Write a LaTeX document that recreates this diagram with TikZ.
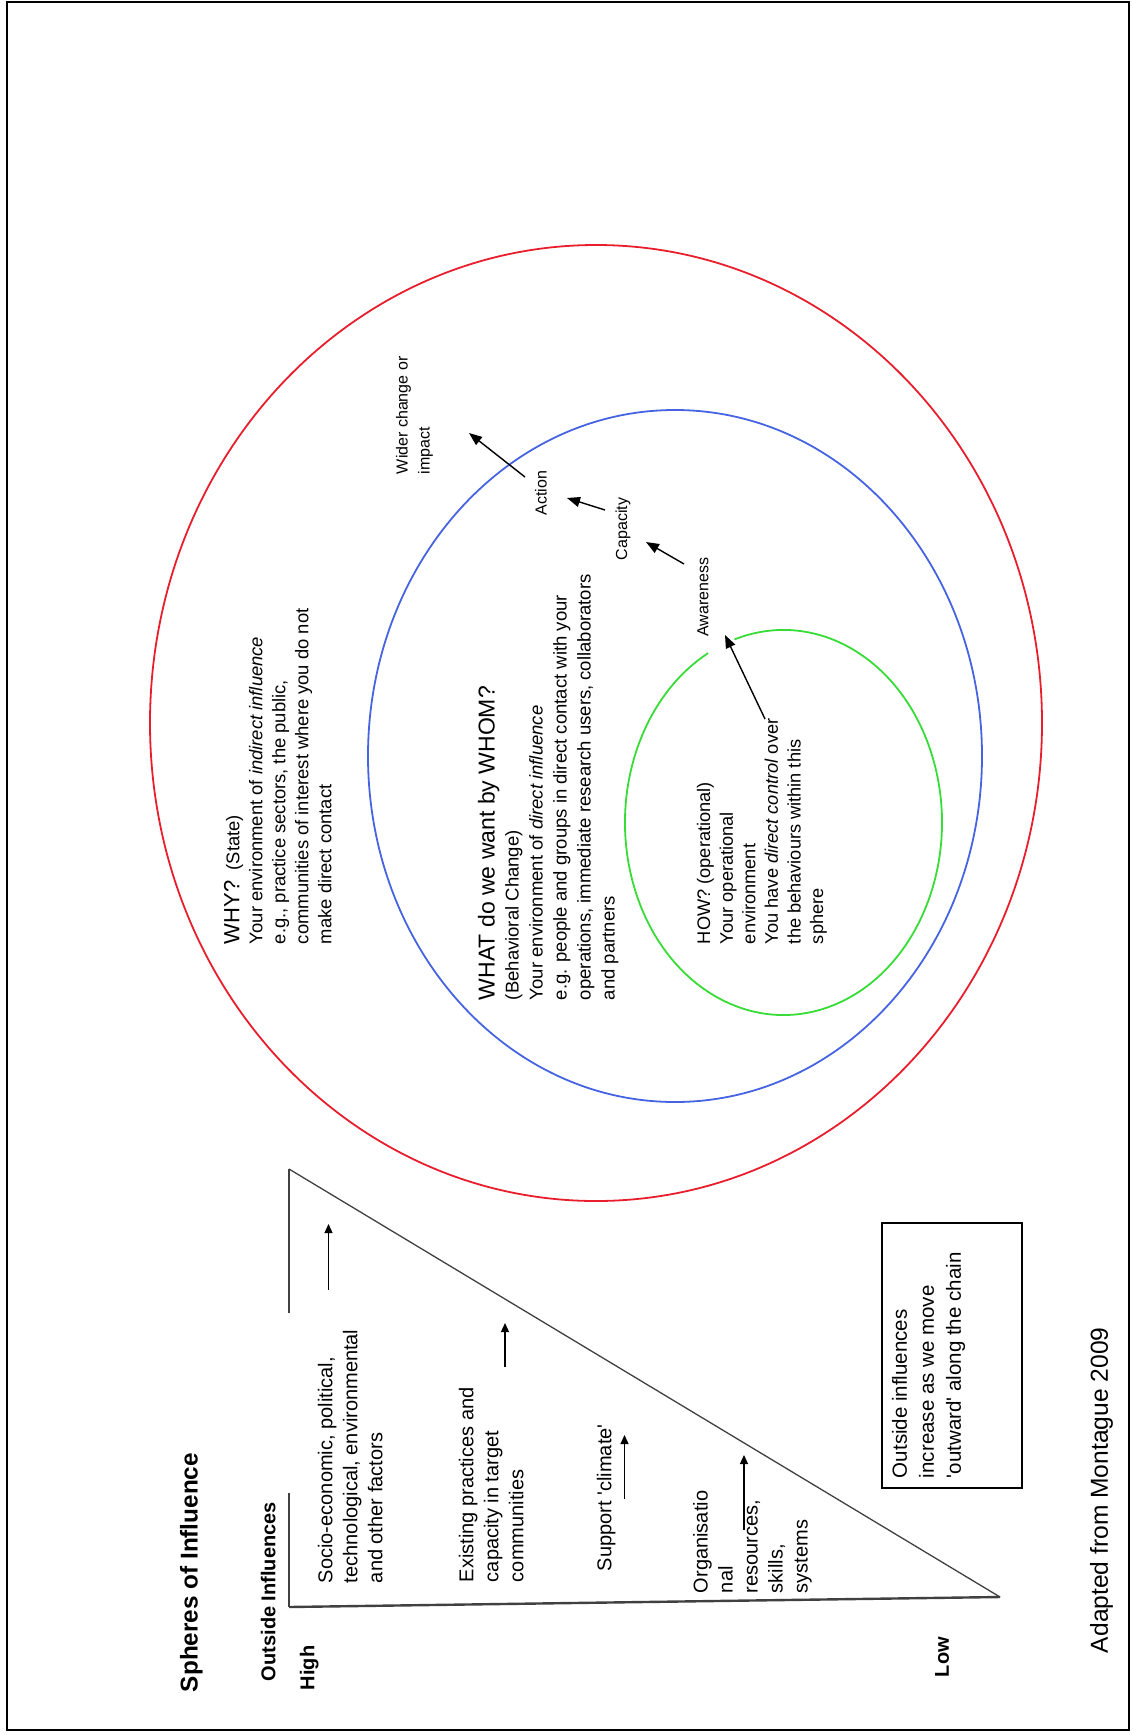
\documentclass[tikz,border=0pt]{standalone}
\usepackage{fontspec}
\setmainfont{Liberation Sans}
\usetikzlibrary{arrows.meta}

\definecolor{outerred}{RGB}{232,30,45}
\definecolor{midblue}{RGB}{70,100,225}
\definecolor{innergreen}{RGB}{55,220,55}

\begin{document}
\begin{tikzpicture}[x=1pt,y=-1pt,
  every node/.style={inner sep=0pt,outer sep=0pt},
  vtext/.style={rotate=90,anchor=north west,align=left},
  bodytext/.style={font=\fontsize{18.4}{23}\selectfont},
  tritext/.style={font=\fontsize{20}{25}\selectfont},
  smalllbl/.style={font=\fontsize{16}{22}\selectfont},
  headlbl/.style={font=\bfseries\fontsize{20}{25}\selectfont},
  sphereline/.style={line width=1.8pt},
  triline/.style={draw=black!75,line width=1.3pt},
  uparrow/.style={line width=1.3pt,-{Triangle[length=9pt,width=8pt]}},
  chainarrow/.style={line width=1.4pt,-{Triangle[length=13pt,width=10pt]}}
]
\useasboundingbox (0,0) rectangle (1132,1735);

% page frame
\draw[line width=1.5pt] (7,2) rectangle (1129,1730);

% spheres of influence
\draw[sphereline,draw=outerred] (596,723) ellipse [x radius=446,y radius=478];
\draw[sphereline,draw=midblue] (675,756) ellipse [x radius=307,y radius=346];
\draw[sphereline,draw=innergreen] (734.5,639.4)
  arc[start angle=252,end angle=601.6,x radius=158.5,y radius=192.5];

% sphere descriptions
\node[vtext,bodytext] (why) at (224,944)
  {{\fontsize{22}{27}\selectfont WHY?}\ \ (State)\\
   Your environment of \textit{indirect influence}\\
   e.g., practice sectors, the public,\\
   communities of interest where you do not\\
   make direct contact};

\node[vtext,font=\fontsize{18.5}{24}\selectfont] (what) at (478,1000)
  {{\fontsize{23}{28}\selectfont WHAT do we want by WHOM?}\\
   (Behavioral Change)\\
   Your environment of \textit{direct influence}\\
   e.g. people and groups in direct contact with your\\
   operations, immediate research users, collaborators\\
   and partners};

\node[vtext,font=\fontsize{18.2}{22.6}\selectfont] (how) at (697,944)
  {HOW? (operational)\\
   Your operational\\
   environment\\
   You have \textit{direct control} over\\
   the behaviours within this\\
   sphere};

% results chain
\node[rotate=90,smalllbl] (awareness) at (703,597) {Awareness};
\node[rotate=90,smalllbl] (capacity) at (623,529) {Capacity};
\node[rotate=90,smalllbl] (action) at (541,493) {Action};
\node[vtext,smalllbl] (wider) at (396,474) {Wider change or\\impact};

\coordinate (howTail) at (765,719);   \coordinate (awTip) at (725,635);
\coordinate (awTail) at (684,564);    \coordinate (capTip) at (646,542);
\coordinate (capTail) at (605,510);   \coordinate (actTip) at (567,498);
\coordinate (actTail) at (525,477);   \coordinate (widerTip) at (469,433);
\draw[chainarrow] (howTail) -- (awTip);
\draw[chainarrow] (awTail) -- (capTip);
\draw[chainarrow] (capTail) -- (actTip);
\draw[chainarrow] (actTail) -- (widerTip);

% outside influences triangle
\coordinate (tTop) at (289,1169);
\coordinate (tCorner) at (289,1607);
\coordinate (tTip) at (1000,1597);
\coordinate (gapA) at (289,1313);
\coordinate (gapB) at (289,1493);
\draw[triline] (tTop) -- (gapA);
\draw[triline] (gapB) -- (tCorner);
\draw[triline,line width=2.4pt] (tCorner) -- (tTip);
\draw[triline] (tTip) -- (tTop);

\node[vtext,font=\bfseries\fontsize{24.3}{30}\selectfont] (title) at (180,1692) {Spheres of Influence};
\node[vtext,headlbl] (outside) at (261,1681) {Outside Influences};
\node[vtext,headlbl] (high) at (300,1690) {High};
\node[vtext,headlbl] (low) at (935,1677) {Low};

\node[vtext,tritext] (socio) at (318,1583)
  {Socio-economic, political,\\technological, environmental\\and other factors};
\node[vtext,tritext] (existing) at (459,1582)
  {Existing practices and\\capacity in target\\communities};
\node[vtext,tritext] (support) at (597,1571)
  {Support \textquotesingle climate\textquotesingle};
\node[vtext,tritext] (organisational) at (693,1593)
  {Organisatio\\nal\\resources,\\skills,\\systems};

\coordinate (s1a) at (328.5,1290); \coordinate (s1b) at (328.5,1224);
\coordinate (s2a) at (505,1367);   \coordinate (s2b) at (505,1323);
\coordinate (s3a) at (624.5,1499); \coordinate (s3b) at (624.5,1435);
\coordinate (s4a) at (744,1530);   \coordinate (s4b) at (744,1455);
\draw[uparrow] (s1a) -- (s1b);
\draw[uparrow] (s2a) -- (s2b);
\draw[uparrow] (s3a) -- (s3b);
\draw[uparrow] (s4a) -- (s4b);

% note box and credit
\node[draw,line width=1.3pt,minimum width=140pt,minimum height=265pt] (notebox) at (952,1355.5) {};
\node[vtext,font=\fontsize{20.5}{27}\selectfont] (notetext) at (892,1478)
  {Outside influences\\increase as we move\\\textquotesingle outward\textquotesingle\ along the chain};
\node[vtext,font=\fontsize{24.6}{30}\selectfont] (credit) at (1090,1653) {Adapted from Montague 2009};

\end{tikzpicture}
\end{document}
